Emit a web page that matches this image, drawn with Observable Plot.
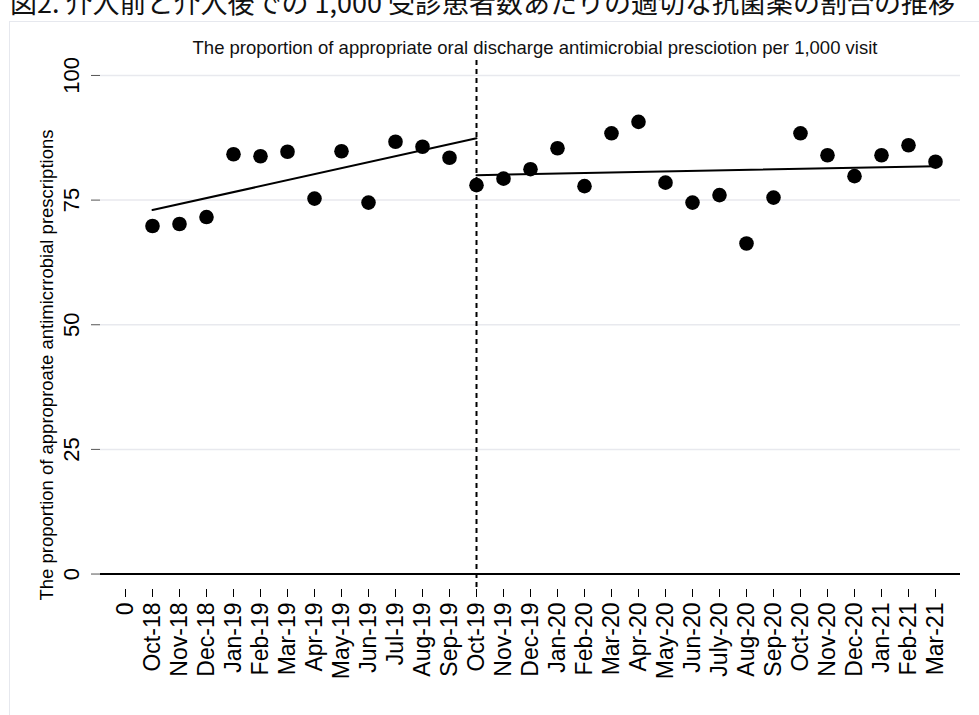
<!DOCTYPE html>
<html><head><meta charset="utf-8">
<script src="https://cdn.jsdelivr.net/npm/d3@7"></script>
<script src="https://cdn.jsdelivr.net/npm/@observablehq/plot@0.6"></script>
<style>
html,body{margin:0;padding:0;background:#fff;width:979px;height:715px;overflow:hidden;position:relative;font-family:"Liberation Sans",Arial,sans-serif;}
#title{position:absolute;left:10px;top:-12px;font-family:"Noto Sans CJK JP";font-size:27px;line-height:27px;white-space:nowrap;color:#111;}
#panel{position:absolute;left:9px;top:21px;width:990px;height:700px;border:1.5px solid #e6e8ee;background:#fff;}
#subtitle{position:absolute;left:90px;width:890px;top:37px;text-align:center;font-family:"Liberation Sans",Arial,sans-serif;font-size:18.5px;color:#111;white-space:nowrap;}
#chart{position:absolute;left:0;top:0;}
</style>
</head><body>
<div id="title">図2. 介入前と介入後での 1,000 受診患者数あたりの適切な抗菌薬の割合の推移</div>
<div id="panel"></div>
<div id="subtitle">The proportion of appropriate oral discharge antimicrobial presciotion per 1,000 visit</div>
<div id="chart"></div>
<script>
const xLabels = ["0","Oct-18","Nov-18","Dec-18","Jan-19","Feb-19","Mar-19","Apr-19","May-19","Jun-19","Jul-19","Aug-19","Sep-19","Oct-19","Nov-19","Dec-19","Jan-20","Feb-20","Mar-20","Apr-20","May-20","Jun-20","July-20","Aug-20","Sep-20","Oct-20","Nov-20","Dec-20","Jan-21","Feb-21","Mar-21"];
const months = ["Oct-18","Nov-18","Dec-18","Jan-19","Feb-19","Mar-19","Apr-19","May-19","Jun-19","Jul-19","Aug-19","Sep-19","Oct-19","Nov-19","Dec-19","Jan-20","Feb-20","Mar-20","Apr-20","May-20","Jun-20","July-20","Aug-20","Sep-20","Oct-20","Nov-20","Dec-20","Jan-21","Feb-21","Mar-21"];
const proportions = [69.8,70.2,71.6,84.2,83.8,84.7,75.3,84.8,74.5,86.7,85.7,83.5,78.0,79.3,81.2,85.4,77.8,88.4,90.7,78.5,74.5,76.0,66.3,75.5,88.4,84.0,79.8,84.0,86.0,82.7];
const preTrendMonths = ["Oct-18","Oct-19"];
const preTrendValues = [73.0,87.4];
const postTrendMonths = ["Oct-19","Mar-21"];
const postTrendValues = [80.0,81.8];
const interventionMonth = "Oct-19";
const yTicks = [0,25,50,75,100];
const gridTicks = [25,50,75,100];
const yTitle = "The proportion of approproate antimicrrobial prescriptions";

const points = months.map((m,i)=>({month:m, value:proportions[i]}));
const pre = preTrendMonths.map((m,i)=>({month:m, value:preTrendValues[i]}));
const post = postTrendMonths.map((m,i)=>({month:m, value:postTrendValues[i]}));

const chart = Plot.plot({
  width:979, height:715,
  marginLeft:100, marginRight:19, marginTop:60, marginBottom:126,
  x:{type:"point", domain:xLabels, padding:0.58},
  y:{domain:[-3.1,103]},
  style:{fontFamily:"'Liberation Sans', Arial, sans-serif", color:"black", background:"transparent", overflow:"visible"},
  marks:[
    Plot.ruleY(gridTicks, {stroke:"#e8e9ee", strokeWidth:1.5}),
    Plot.ruleY([0], {stroke:"black", strokeWidth:2}),
    Plot.axisY({ticks:yTicks, tickSize:9, tickRotate:-90, fontSize:22, tickPadding:13, label:null, stroke:"#555"}),
    Plot.axisX({tickSize:8, tickRotate:-90, fontSize:23, tickPadding:5, label:null}),
    Plot.ruleX([interventionMonth], {stroke:"black", strokeWidth:2, strokeDasharray:"5,4"}),
    Plot.line(pre, {x:"month", y:"value", stroke:"black", strokeWidth:2}),
    Plot.line(post, {x:"month", y:"value", stroke:"black", strokeWidth:2}),
    Plot.dot(points, {x:"month", y:"value", r:7.3, fill:"black", stroke:null}),
    Plot.text([yTitle], {frameAnchor:"left", textAnchor:"middle", rotate:-90, dx:-53, dy:40, fontSize:18.5, fill:"black"})
  ]
});
document.getElementById("chart").appendChild(chart);
</script>
</body></html>
